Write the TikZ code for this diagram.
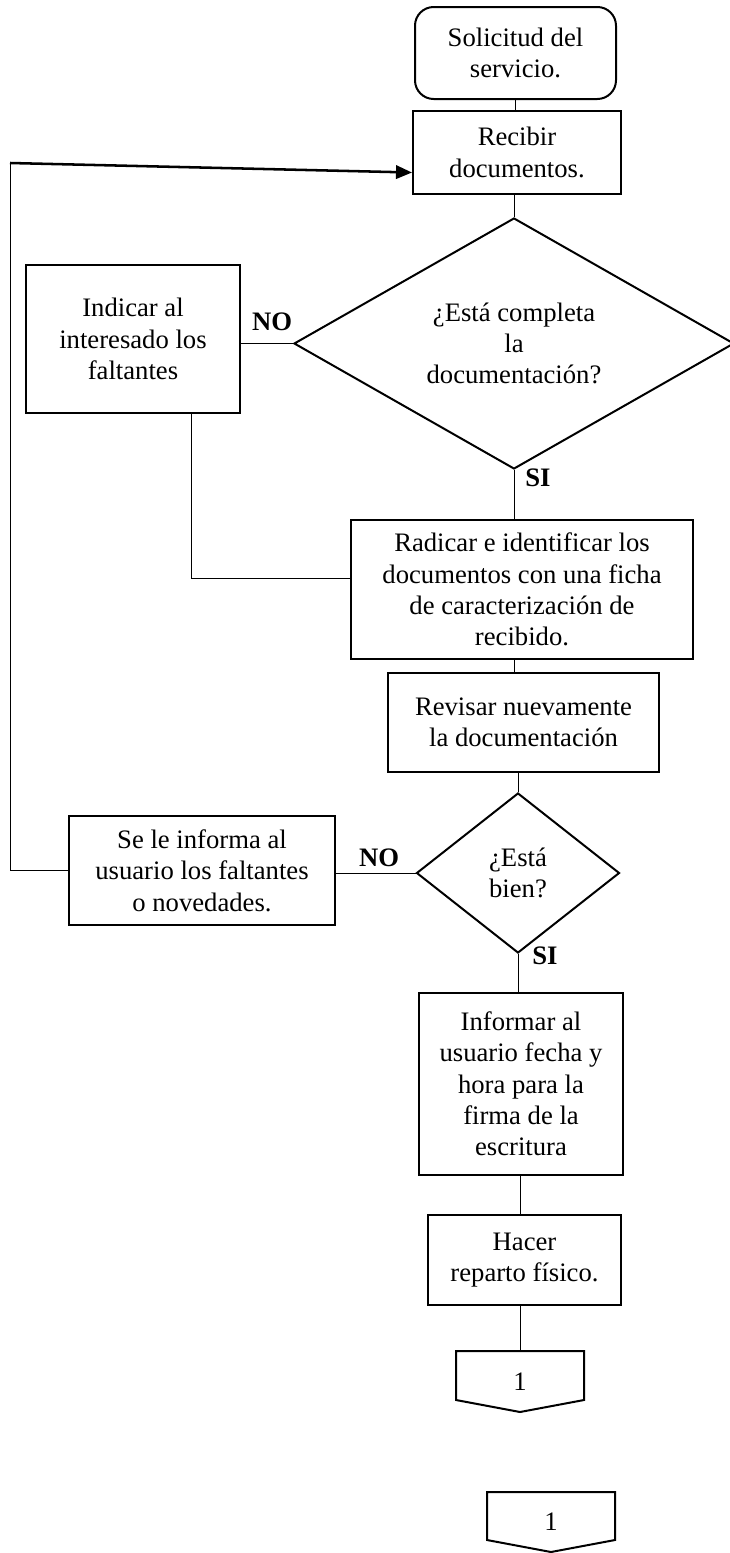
\documentclass[tikz,border=0pt]{standalone}
\usepackage{fontspec}
\setmainfont{Liberation Serif}
\usetikzlibrary{shapes.geometric, arrows.meta}

\begin{document}
\begin{tikzpicture}[x=0.75pt, y=-0.75pt,
    font=\fontsize{20pt}{23.5pt}\selectfont,
    caja/.style={draw, line width=1.5pt, align=center, inner sep=0pt},
    inicio/.style={caja, rounded corners=14pt},
    decision/.style={draw, diamond, line width=1.5pt, align=center, inner sep=0pt, aspect=1.5},
    conector/.style={inner sep=0pt, outer sep=0pt, minimum width=96pt},
    borde/.style={line width=1.5pt},
    linea/.style={line width=0.75pt},
    flecha/.style={line width=1.9pt, -{Triangle[length=12pt, width=10pt]}},
    etiqueta/.style={font=\fontsize{20pt}{23.5pt}\selectfont\bfseries, inner sep=0pt}]
  \useasboundingbox (0,0) rectangle (729,1553);

  % Cajas del proceso
  \node[inicio, minimum width=150.75pt, minimum height=69pt] (sol) at (515.5,53) {Solicitud del\\servicio.};
  \node[caja, minimum width=156pt, minimum height=62.25pt] (rec) at (517,152.5) {Recibir\\documentos.};
  \node[decision, minimum width=330pt, minimum height=188.25pt] (d1) at (514,343.5) {¿Está completa\\la\\documentación?};
  \node[caja, minimum width=160.5pt, minimum height=111pt] (ind) at (133,339) {Indicar al\\interesado los\\faltantes};
  \node[caja, minimum width=256.5pt, minimum height=104.25pt] (rad) at (522,589.5) {Radicar e identificar los\\documentos con una ficha\\de caracterización de\\recibido.};
  \node[caja, minimum width=203.25pt, minimum height=74.25pt] (rev) at (523.5,722.5) {Revisar nuevamente\\la documentación};
  \node[decision, minimum width=152.25pt, minimum height=120pt] (d2) at (518,873) {¿Está\\bien?};
  \node[caja, minimum width=199.5pt, minimum height=81.75pt] (avi) at (202,870.5) {Se le informa al\\usuario los faltantes\\o novedades.};
  \node[caja, minimum width=153pt, minimum height=136.5pt] (fec) at (521,1084) {Informar al\\usuario fecha y\\hora para la\\firma de la\\escritura};
  \node[caja, minimum width=144.75pt, minimum height=67.5pt] (rep) at (524.5,1260) {Hacer\\reparto físico.};

  % Conectores de página
  \node[conector, minimum height=45.75pt] (c1) at (520,1381.5) {1};
  \draw[borde] (c1.north west) -- (c1.north east) -- ([yshift=9pt]c1.south east) -- (c1.south) -- ([yshift=9pt]c1.south west) -- cycle;
  \node[conector, minimum height=45pt] (c2) at (551,1522) {1};
  \draw[borde] (c2.north west) -- (c2.north east) -- ([yshift=9pt]c2.south east) -- (c2.south) -- ([yshift=9pt]c2.south west) -- cycle;

  % Líneas principales
  \draw[linea] (sol.south) -- (sol.south |- rec.north);
  \draw[linea] (d1.north |- rec.south) -- (d1.north);
  \draw[linea] (d1.south) -- (d1.south |- rad.north);
  \draw[linea] (d1.south |- rad.south) -- (d1.south |- rev.north);
  \draw[linea] (d2.north |- rev.south) -- (d2.north);
  \draw[linea] (d2.south) -- (d2.south |- fec.north);
  \draw[linea] (c1.north |- fec.south) -- (c1.north |- rep.north);
  \draw[linea] (c1.north |- rep.south) -- (c1.north);

  % Ramas del NO
  \draw[linea] (d1.west) -- (d1.west -| ind.east);
  \draw[linea] ([xshift=44pt]ind.south) |- ([yshift=8pt]rad.west);
  \draw[linea] (d2.west) -- (d2.west -| avi.east);
  \coordinate (P) at (10,163);
  \draw[linea] (avi.west) -- (avi.west -| P) -- (P);
  \draw[flecha] (P) -- ([yshift=-15pt]rec.west);

  % Etiquetas
  \node[etiqueta] (no1) at (272,322) {NO};
  \node[etiqueta] (si1) at (538,478) {SI};
  \node[etiqueta] (no2) at (379,858) {NO};
  \node[etiqueta] (si2) at (545,956) {SI};
\end{tikzpicture}
\end{document}
